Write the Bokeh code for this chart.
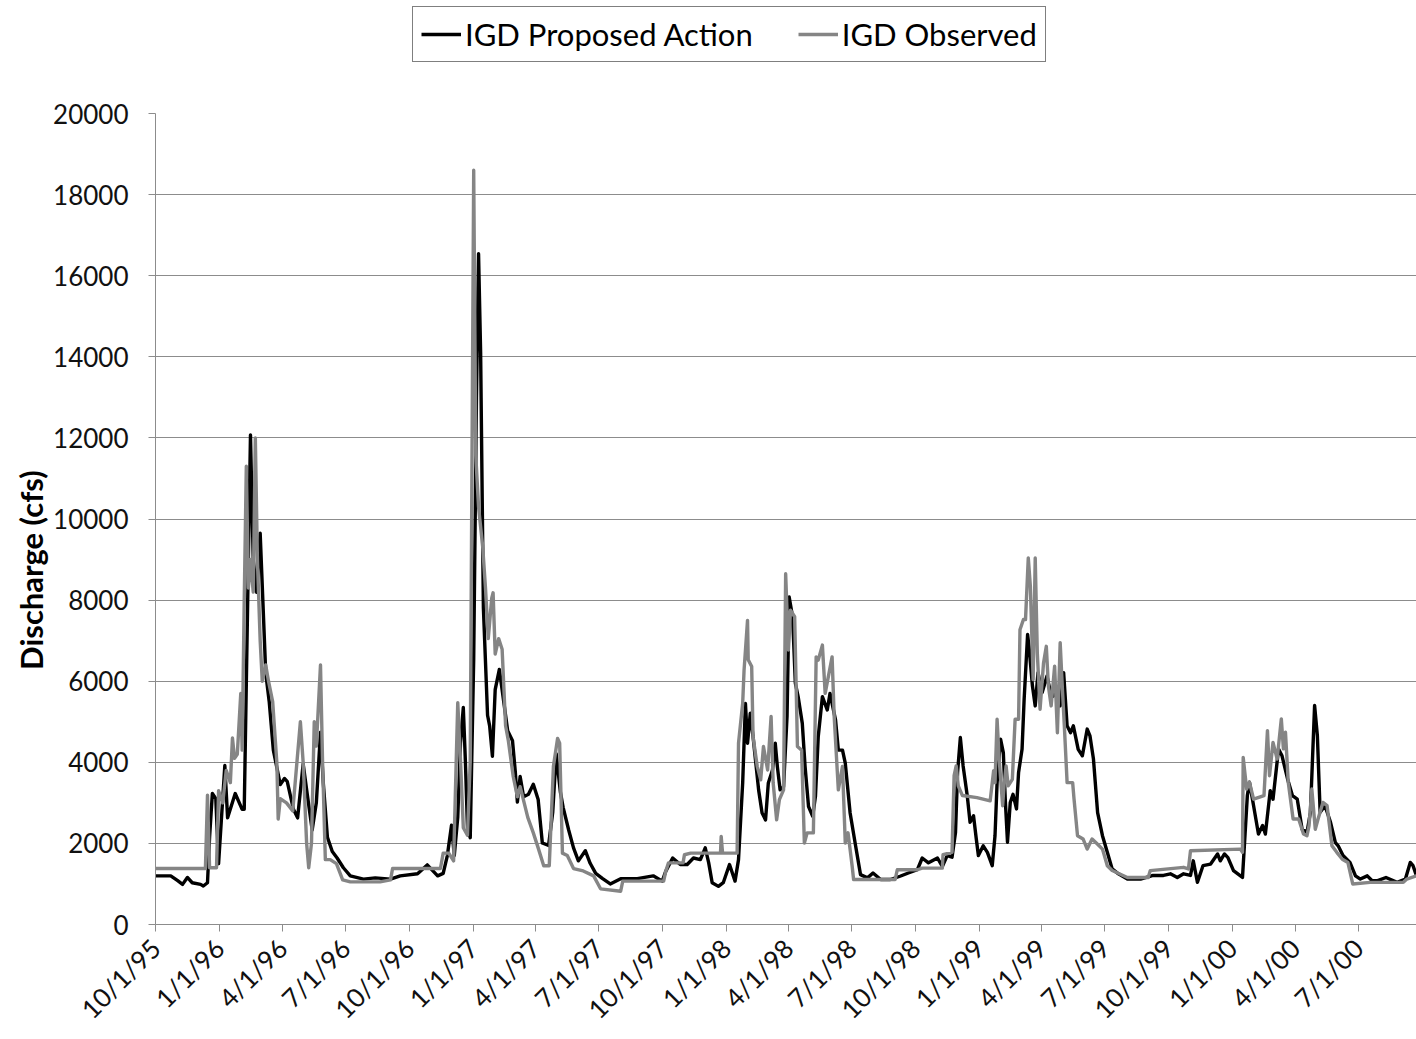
import pandas as pd
from bokeh.plotting import figure
from bokeh.layouts import column, row
from bokeh.models import FixedTicker, Legend, LegendItem, Range1d, Label
from bokeh.embed import file_html
from bokeh.resources import INLINE
import math

# time axis: days after 1995-10-01
START = pd.Timestamp("1995-10-01")

tick_dates = ["1995-10-01", "1996-01-01", "1996-04-01", "1996-07-01", "1996-10-01",
              "1997-01-01", "1997-04-01", "1997-07-01", "1997-10-01", "1998-01-01",
              "1998-04-01", "1998-07-01", "1998-10-01", "1999-01-01", "1999-04-01",
              "1999-07-01", "1999-10-01", "2000-01-01", "2000-04-01", "2000-07-01"]
tick_labels = ["10/1/95", "1/1/96", "4/1/96", "7/1/96", "10/1/96", "1/1/97", "4/1/97",
               "7/1/97", "10/1/97", "1/1/98", "4/1/98", "7/1/98", "10/1/98", "1/1/99",
               "4/1/99", "7/1/99", "10/1/99", "1/1/00", "4/1/00", "7/1/00"]

y_ticks = [0, 2000, 4000, 6000, 8000, 10000, 12000, 14000, 16000, 18000, 20000]

proposed_day = [
    0, 22, 32, 39, 46, 53, 65, 69, 75, 78, 82, 87, 91, 100, 104, 115, 125, 128, 133, 137,
    141, 146, 151, 159, 164, 170, 180, 186, 190, 199, 205, 213, 219, 226, 232, 238, 242, 248, 255, 262,
    271, 281, 300, 317, 339, 353, 378, 392, 407, 415, 421, 427, 431, 436, 440, 444, 447, 450, 454, 459,
    463, 466, 469, 473, 479, 482, 486, 490, 496, 500, 508, 515, 519, 522, 526, 531, 538, 545, 552, 558,
    567, 573, 578, 584, 588, 596, 603, 610, 620, 627, 635, 645, 656, 671, 695, 718, 731, 736, 746, 757,
    767, 776, 786, 793, 798, 803, 812, 819, 828, 836, 841, 847, 851, 854, 858, 862, 870, 875, 880, 884,
    890, 894, 897, 901, 906, 911, 914, 919, 923, 927, 933, 937, 942, 948, 952, 956, 962, 969, 973, 981,
    985, 991, 995, 1002, 1010, 1017, 1027, 1035, 1046, 1060, 1074, 1086, 1099, 1106, 1115, 1128, 1135, 1142, 1149, 1154,
    1157, 1161, 1165, 1171, 1175, 1180, 1184, 1187, 1194, 1200, 1207, 1211, 1214, 1219, 1223, 1226, 1229, 1233, 1237, 1242,
    1245, 1250, 1253, 1258, 1260, 1265, 1269, 1273, 1279, 1286, 1291, 1295, 1301, 1305, 1310, 1315, 1320, 1324, 1331, 1337,
    1344, 1348, 1353, 1359, 1366, 1373, 1380, 1389, 1402, 1421, 1439, 1454, 1464, 1474, 1483, 1493, 1497, 1503, 1511, 1522,
    1532, 1536, 1542, 1547, 1555, 1568, 1575, 1578, 1584, 1591, 1597, 1601, 1608, 1612, 1620, 1625, 1633, 1640, 1647, 1654,
    1661, 1666, 1672, 1676, 1680, 1687, 1695, 1702, 1706, 1713, 1723, 1731, 1738, 1748, 1755, 1763, 1775, 1791, 1803, 1810,
    1814, 1819]
proposed_cfs = [
    1200, 1200, 1080, 990, 1160, 1030, 990, 950, 1030, 2150, 3230, 3100, 1500, 3920, 2630, 3230, 2840, 2840, 8000, 12070,
    9000, 8190, 9650, 6200, 5500, 4300, 3450, 3600, 3530, 2840, 2630, 3960, 3200, 2330, 3000, 4740, 3500, 2150, 1800, 1640,
    1400, 1200, 1120, 1150, 1120, 1200, 1250, 1470, 1200, 1260, 1700, 2450, 1700, 2640, 4500, 5350, 4030, 2390, 2140, 6540,
    13000, 16540, 14090, 7800, 5160, 4900, 4150, 5790, 6290, 5790, 4780, 4530, 3770, 3020, 3650, 3150, 3210, 3460, 3080, 2010,
    1950, 2770, 4210, 3270, 2890, 2330, 1890, 1570, 1820, 1510, 1260, 1130, 1000, 1130, 1130, 1200, 1070, 1310, 1640, 1480,
    1480, 1640, 1600, 1890, 1520, 1030, 940, 1030, 1480, 1070, 1600, 3490, 5450, 4470, 5210, 4630, 3320, 2750, 2580, 3490,
    3810, 4470, 3900, 3320, 3400, 5130, 8080, 7590, 5950, 5620, 4960, 3900, 2910, 2670, 3160, 4630, 5620, 5290, 5700, 5040,
    4300, 4300, 3980, 2750, 1930, 1230, 1150, 1270, 1110, 1110, 1190, 1270, 1350, 1640, 1520, 1640, 1430, 1700, 1660, 2270,
    3750, 4610, 3910, 3170, 2520, 2680, 2110, 1700, 1940, 1780, 1450, 2190, 3500, 4570, 4240, 3010, 2030, 3010, 3210, 2850,
    3750, 4320, 5550, 7150, 6860, 5880, 5390, 6210, 5720, 6130, 5720, 5630, 5800, 5390, 6210, 4900, 4730, 4900, 4320, 4160,
    4820, 4650, 4080, 2760, 2190, 1780, 1370, 1250, 1120, 1120, 1210, 1210, 1250, 1160, 1250, 1210, 1570, 1040, 1450, 1490,
    1740, 1570, 1740, 1650, 1330, 1160, 3180, 3510, 2930, 2230, 2440, 2230, 3300, 3090, 4330, 4160, 3590, 3180, 3090, 2350,
    2270, 2770, 5400, 4660, 2770, 2930, 2520, 2020, 1940, 1700, 1530, 1200, 1120, 1200, 1080, 1080, 1160, 1040, 1120, 1530,
    1450, 1200]

observed_day = [
    0, 72, 75, 78, 88, 91, 97, 102, 108, 111, 114, 118, 123, 125, 128, 131, 134, 137, 141, 144,
    147, 151, 154, 159, 163, 169, 175, 177, 180, 189, 198, 203, 209, 213, 218, 221, 225, 229, 232, 238,
    241, 245, 252, 261, 270, 281, 324, 339, 342, 411, 415, 423, 430, 436, 440, 444, 450, 454, 459, 462,
    466, 472, 476, 480, 485, 487, 490, 495, 500, 505, 509, 516, 522, 526, 537, 545, 552, 560, 568, 574,
    580, 583, 587, 594, 603, 617, 632, 642, 671, 674, 718, 733, 736, 740, 761, 763, 772, 815, 816, 818,
    839, 841, 847, 849, 854, 855, 860, 862, 868, 873, 877, 883, 888, 891, 896, 900, 906, 909, 913, 916,
    922, 926, 932, 936, 940, 949, 953, 956, 962, 966, 971, 976, 979, 985, 991, 995, 999, 1005, 1007, 1067,
    1070, 1099, 1106, 1135, 1136, 1149, 1152, 1155, 1158, 1164, 1185, 1204, 1209, 1211, 1214, 1217, 1222, 1224, 1227, 1230,
    1236, 1240, 1245, 1247, 1252, 1255, 1259, 1262, 1266, 1269, 1272, 1276, 1281, 1285, 1288, 1292, 1297, 1301, 1305, 1308,
    1311, 1315, 1323, 1325, 1330, 1338, 1344, 1351, 1359, 1366, 1373, 1380, 1402, 1432, 1435, 1483, 1490, 1493, 1565, 1568,
    1569, 1574, 1578, 1584, 1599, 1604, 1607, 1612, 1618, 1624, 1627, 1630, 1634, 1641, 1649, 1656, 1661, 1664, 1668, 1673,
    1677, 1684, 1690, 1697, 1704, 1712, 1720, 1727, 1752, 1800, 1805, 1819]
observed_cfs = [
    1380, 1380, 3190, 1400, 1400, 3300, 3000, 3800, 3500, 4600, 4100, 4200, 5700, 4300, 8000, 11300, 8300, 9000, 8200, 12000,
    9000, 7000, 6000, 6400, 6000, 5500, 4000, 2600, 3100, 3000, 2800, 3800, 5000, 4000, 2000, 1400, 2000, 5000, 4400, 6400,
    4000, 1600, 1600, 1500, 1100, 1050, 1050, 1100, 1380, 1380, 1760, 1760, 1570, 5470, 4030, 2390, 2200, 4030, 18600, 11570,
    10300, 9310, 8300, 7050, 8050, 8180, 6670, 7050, 6790, 4900, 4530, 3650, 3150, 3400, 2640, 2260, 1890, 1450, 1450, 3900,
    4590, 4470, 1760, 1700, 1380, 1320, 1200, 880, 820, 1070, 1070, 1070, 1310, 1520, 1520, 1720, 1760, 1760, 2170, 1760,
    1760, 4470, 5450, 6270, 7500, 6530, 6360, 4630, 3900, 3570, 4390, 3810, 5130, 3490, 2580, 3080, 3320, 8650, 6770, 7750,
    7590, 4390, 4300, 2010, 2260, 2260, 6600, 6520, 6890, 5700, 6150, 6600, 5130, 3320, 3900, 2010, 2260, 1430, 1110, 1110,
    1350, 1350, 1390, 1390, 1720, 1780, 3670, 3910, 3420, 3180, 3130, 3050, 3790, 3500, 5060, 4080, 2930, 3420, 3910, 3420,
    3580, 5060, 5060, 7270, 7520, 7520, 9040, 8340, 6040, 9040, 6700, 5310, 6450, 6860, 5880, 5390, 6370, 4730, 6950, 5880,
    4900, 3500, 3500, 3090, 2190, 2110, 1860, 2110, 1980, 1860, 1450, 1330, 1160, 1160, 1330, 1410, 1370, 1820, 1860, 1780,
    4120, 3340, 3510, 3090, 3180, 4780, 3670, 4490, 4080, 5070, 4330, 4740, 3510, 2600, 2600, 2230, 2190, 2440, 3340, 2350,
    2600, 3010, 2930, 1940, 1780, 1610, 1530, 1000, 1040, 1040, 1120, 1200]

FONT = "Lato"
GRID = "#8c8c8c"
C_PROP = "black"
C_OBS = "#858585"
LW = 3.4

tick_pos = [(pd.Timestamp(d) - START).days for d in tick_dates]

# ---- main chart ----
p = figure(width=1366, height=977, output_backend="svg", toolbar_location=None,
           x_range=Range1d(0, 1819), y_range=Range1d(0, 20000),
           min_border_left=105, min_border_right=0, min_border_top=51, min_border_bottom=114)
p.outline_line_color = None
p.background_fill_color = "white"
p.border_fill_color = "white"

r_prop = p.line(proposed_day, proposed_cfs, line_color=C_PROP, line_width=LW, line_join="round")
r_obs = p.line(observed_day, observed_cfs, line_color=C_OBS, line_width=LW, line_join="round")

p.xgrid.visible = False
p.ygrid.grid_line_color = GRID
p.ygrid.grid_line_width = 1
p.ygrid.ticker = FixedTicker(ticks=y_ticks)

ya = p.yaxis[0]
ya.ticker = FixedTicker(ticks=y_ticks)
ya.major_label_text_font = FONT
ya.major_label_text_font_size = "26px"
ya.major_label_text_color = "#111111"
ya.major_label_standoff = 20
ya.axis_line_color = GRID
ya.major_tick_line_color = GRID
ya.major_tick_out = 7
ya.major_tick_in = 0
ya.minor_tick_line_color = None

xa = p.xaxis[0]
xa.ticker = FixedTicker(ticks=tick_pos)
xa.major_label_overrides = {t: lab for t, lab in zip(tick_pos, tick_labels)}
xa.major_label_orientation = math.pi / 4
xa.major_label_text_font = FONT
xa.major_label_text_font_size = "26px"
xa.major_label_text_color = "#111111"
xa.major_label_standoff = 12
xa.axis_line_color = GRID
xa.major_tick_line_color = GRID
xa.major_tick_out = 7
xa.major_tick_in = 0
xa.minor_tick_line_color = None

# ---- y-axis title strip (left of the chart) ----
pt = figure(width=50, height=977, output_backend="svg", toolbar_location=None,
            x_axis_location=None, y_axis_location=None,
            x_range=Range1d(0, 1), y_range=p.y_range,
            min_border_left=0, min_border_right=0, min_border_top=51, min_border_bottom=114)
pt.outline_line_color = None
pt.xgrid.visible = False
pt.ygrid.visible = False
pt.add_layout(Label(x=0.6, y=8740, text="Discharge (cfs)", angle=math.pi / 2,
                    text_align="center", text_baseline="middle",
                    text_font=FONT, text_font_style="bold", text_font_size="31px",
                    text_color="black"))

# ---- legend strip (above the chart) ----
pl = figure(width=1416, height=62, output_backend="svg", toolbar_location=None,
            x_axis_location=None, y_axis_location=None,
            x_range=Range1d(0, 1), y_range=Range1d(0, 1),
            min_border_left=0, min_border_right=0, min_border_top=0, min_border_bottom=0)
pl.outline_line_color = None
pl.xgrid.visible = False
pl.ygrid.visible = False
# legend sample renderers sit outside the strip's visible range; only their legend glyphs show
lr_prop = pl.line(x=[5, 6], y=[5, 6], line_color=C_PROP, line_width=LW)
lr_obs = pl.line(x=[5, 6], y=[5, 6], line_color=C_OBS, line_width=LW)
legend = Legend(items=[LegendItem(label="IGD Proposed Action", renderers=[lr_prop]),
                       LegendItem(label="IGD Observed", renderers=[lr_obs])],
                orientation="horizontal", location=(412, 0))
legend.label_text_font = FONT
legend.label_text_font_size = "31px"
legend.label_text_color = "black"
legend.glyph_width = 40
legend.glyph_height = 30
legend.label_height = 30
legend.label_standoff = 4
legend.spacing = 45
legend.padding = 8
legend.margin = 0
legend.border_line_color = "black"
legend.border_line_width = 1
legend.background_fill_color = "white"
legend.background_fill_alpha = 1
pl.add_layout(legend, "center")

layout = column(pl, row(pt, p, spacing=0), spacing=0)
open("out.html", "w").write(file_html(layout, INLINE))
